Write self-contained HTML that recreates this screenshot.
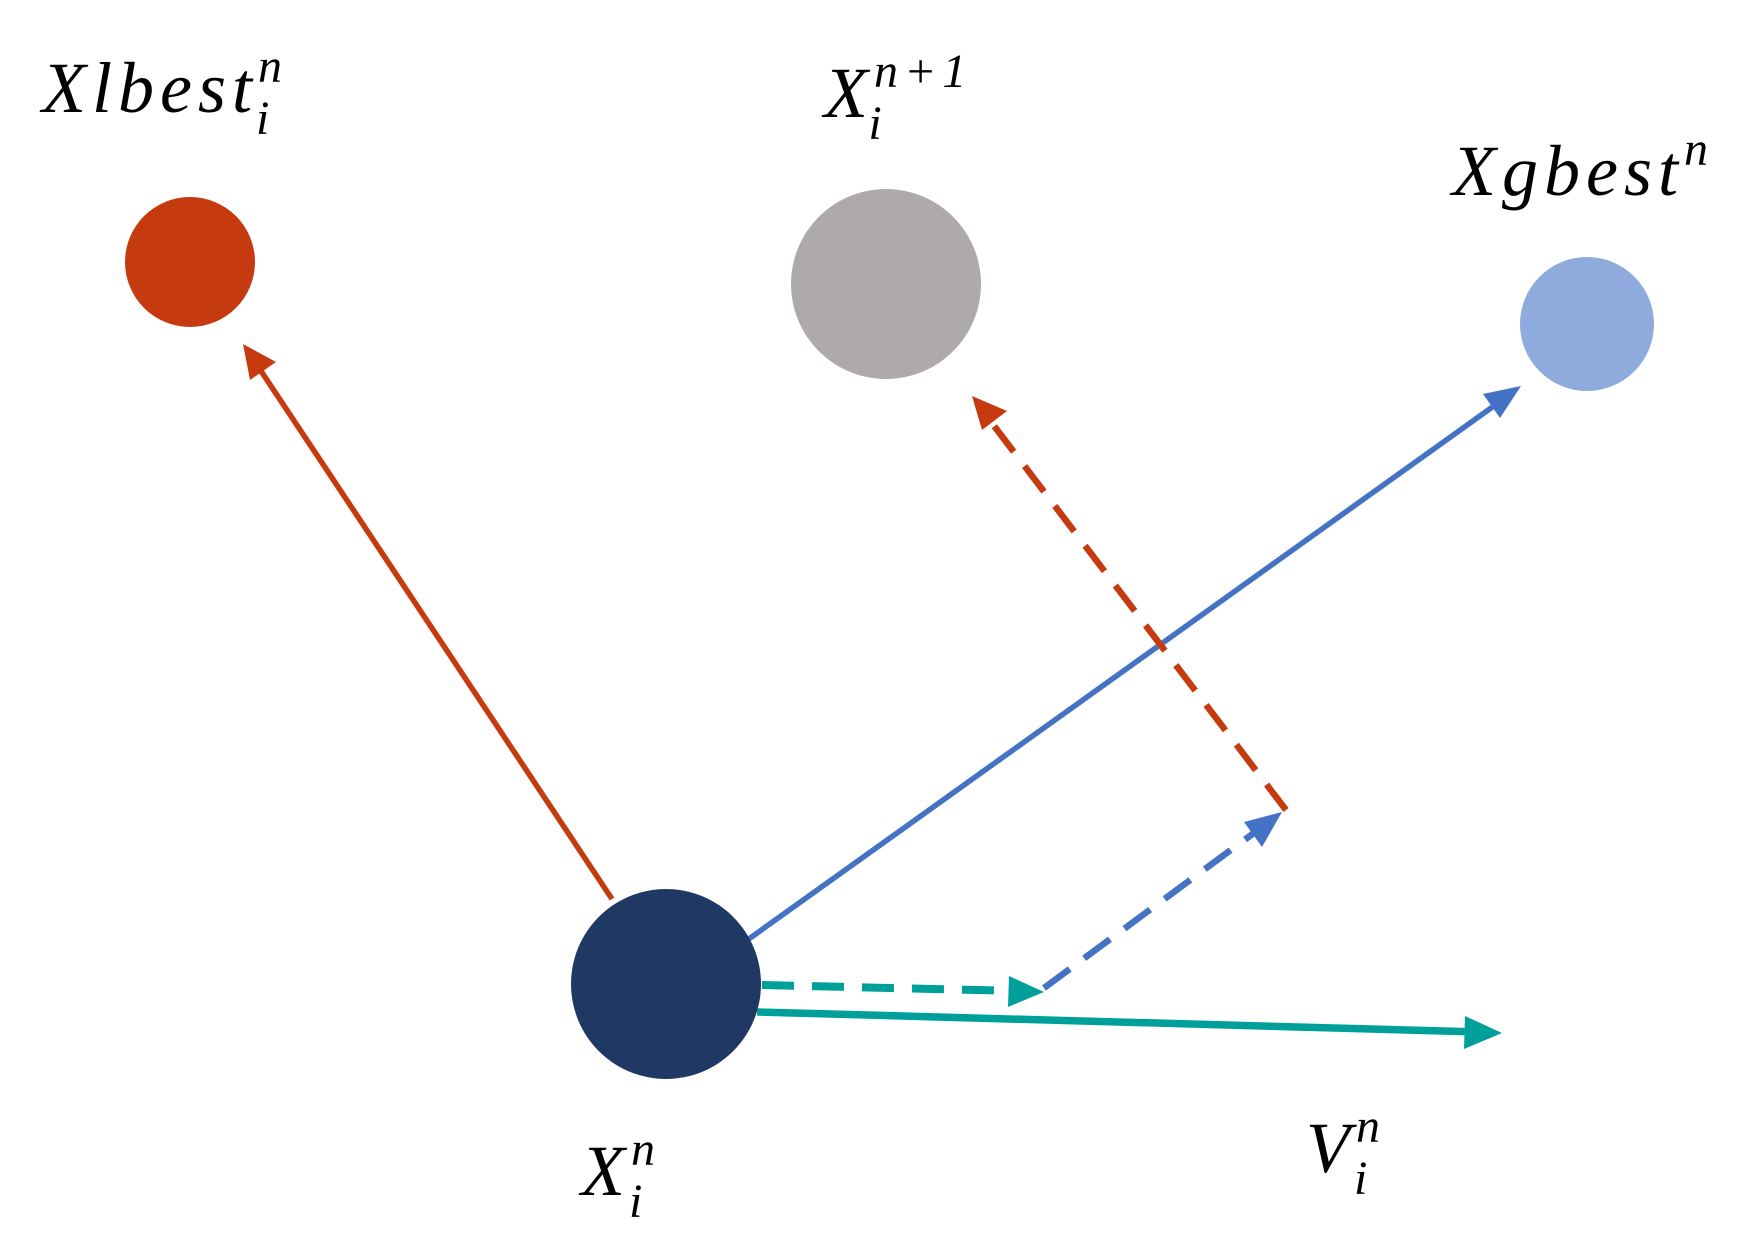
<!DOCTYPE html>
<html><head><style>body{margin:0;background:#fff}svg{display:block}</style></head><body>
<svg width="1751" height="1250" viewBox="0 0 1751 1250" xmlns="http://www.w3.org/2000/svg">
<g font-family="Liberation Serif, serif" font-style="italic" font-size="72" fill="#000" letter-spacing="6">
<text x="42" y="112">Xlbest<tspan font-size="48" dy="-30">n</tspan><tspan font-size="48" dx="-32" dy="52">i</tspan></text>
<text x="824" y="117">X<tspan font-size="48" dy="-30">n+1</tspan><tspan font-size="48" dx="-104" dy="52">i</tspan></text>
<text x="1452" y="195">Xgbest<tspan font-size="48" dy="-30">n</tspan></text>
<text x="581" y="1195">X<tspan font-size="48" dy="-30">n</tspan><tspan font-size="48" dx="-32" dy="52">i</tspan></text>
<text x="1306" y="1172">V<tspan font-size="48" dy="-30">n</tspan><tspan font-size="48" dx="-32" dy="52">i</tspan></text>
</g>
<circle cx="190" cy="262" r="65" fill="#c63a10"/>
<circle cx="886" cy="284" r="95" fill="#aeaaaa"/>
<circle cx="1587" cy="324" r="67" fill="#8faadc"/>
<line x1="612" y1="899" x2="255" y2="362" stroke="#c63a10" stroke-width="5.5"/>
<polygon points="243,344 276,362 250,380" fill="#c63a10"/>
<line x1="746" y1="941" x2="1505" y2="398" stroke="#4472c4" stroke-width="5.5"/>
<polygon points="1521,386 1500,418 1483,394" fill="#4472c4"/>
<line x1="1286" y1="810" x2="985" y2="414" stroke="#c63a10" stroke-width="6.5" stroke-dasharray="32,18"/>
<polygon points="972,396 1007,411 982,430" fill="#c63a10"/>
<line x1="1044" y1="988" x2="1266" y2="824" stroke="#4472c4" stroke-width="6.5" stroke-dasharray="32,18"/>
<polygon points="1282,812 1262,847 1244,822" fill="#4472c4"/>
<line x1="762" y1="985" x2="1020" y2="991" stroke="#00a09a" stroke-width="8" stroke-dasharray="32,18"/>
<polygon points="1044,992 1008,1007 1009,976" fill="#00a09a"/>
<line x1="757" y1="1012" x2="1480" y2="1032" stroke="#00a09a" stroke-width="7.5"/>
<polygon points="1502,1033 1464,1049 1465,1016" fill="#00a09a"/>
<circle cx="666" cy="984" r="95" fill="#203864"/>
</svg>
</body></html>
